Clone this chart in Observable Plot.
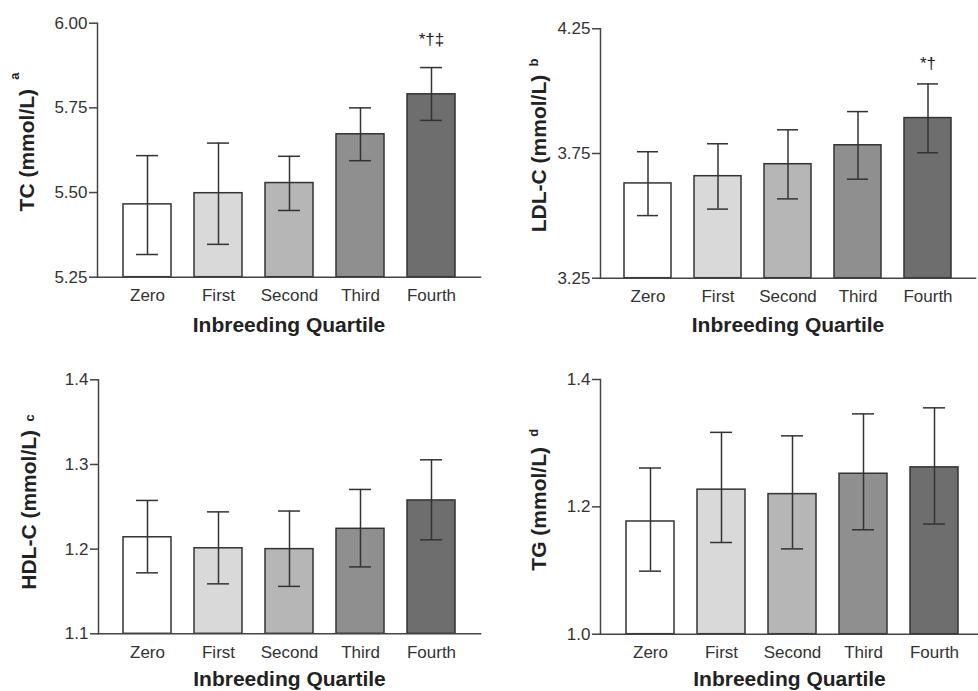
<!DOCTYPE html>
<html>
<head>
<meta charset="utf-8">
<script src="https://cdn.jsdelivr.net/npm/d3@7"></script>
<script src="https://cdn.jsdelivr.net/npm/@observablehq/plot@0.6"></script>
<style>
  body { margin: 0; background: #fff; }
  #wrap { position: relative; width: 978px; height: 691px; overflow: hidden; background: #fff;
          font-family: "Liberation Sans", Arial, sans-serif; }
  .panel { position: absolute; }
</style>
</head>
<body>
<div id="wrap"></div>
<script>
// ---- data ----
const quartiles = ["Zero", "First", "Second", "Third", "Fourth"];
const fills = ["#ffffff", "#d9d9d9", "#b6b6b6", "#8f8f8f", "#6e6e6e"];

const tcMean = [5.465, 5.498, 5.528, 5.672, 5.790];
const tcLow  = [5.317, 5.347, 5.447, 5.594, 5.713];
const tcHigh = [5.609, 5.646, 5.607, 5.750, 5.869];
const tcTicks = [5.25, 5.50, 5.75, 6.00];
const tcNotes = ["", "", "", "", "*†‡"];

const ldlMean = [3.630, 3.659, 3.707, 3.783, 3.892];
const ldlLow  = [3.501, 3.527, 3.568, 3.647, 3.753];
const ldlHigh = [3.757, 3.789, 3.845, 3.918, 4.029];
const ldlTicks = [3.25, 3.75, 4.25];
const ldlNotes = ["", "", "", "", "*†"];

const hdlMean = [1.214, 1.201, 1.200, 1.224, 1.2575];
const hdlLow  = [1.172, 1.159, 1.156, 1.179, 1.211];
const hdlHigh = [1.2575, 1.244, 1.245, 1.2705, 1.3055];
const hdlTicks = [1.1, 1.2, 1.3, 1.4];

const tgMean = [1.177, 1.227, 1.220, 1.252, 1.262];
const tgLow  = [1.099, 1.144, 1.134, 1.164, 1.173];
const tgHigh = [1.261, 1.317, 1.3115, 1.346, 1.3555];
const tgTicks = [1.0, 1.2, 1.4];

const xTitle = "Inbreeding Quartile";

// ---- drawing ----
const FONT = "'Liberation Sans', Arial, sans-serif";
const INK = "#333";

function panel(cfg) {
  const rows = quartiles.map((q, i) => ({
    q, mean: cfg.mean[i], low: cfg.low[i], high: cfg.high[i], fill: fills[i],
    note: cfg.notes ? cfg.notes[i] : ""
  }));
  const base = cfg.ticks[0];
  const top = cfg.ticks[cfg.ticks.length - 1];
  const marks = [
    Plot.barY(rows, {x: "q", y1: base, y2: "mean", fill: "fill", stroke: INK, strokeWidth: 1.5}),
    Plot.ruleX(rows, {x: "q", y1: "low", y2: "high", stroke: INK, strokeWidth: 1.5}),
    Plot.tickY(rows, {x: "q", y: "low", inset: 13, stroke: INK, strokeWidth: 1.5}),
    Plot.tickY(rows, {x: "q", y: "high", inset: 13, stroke: INK, strokeWidth: 1.5}),
    Plot.frame({anchor: "left", stroke: "#444", strokeWidth: 1.5}),
    Plot.frame({anchor: "bottom", stroke: "#444", strokeWidth: 1.5}),
    Plot.axisY({ticks: cfg.ticks, tickFormat: d3.format(cfg.fmt), tickSize: 8, tickPadding: 2,
                fontSize: 17, stroke: "#444", strokeWidth: 1.5, fill: INK, label: null}),
    Plot.axisX({tickSize: 0, tickPadding: 12, fontSize: 17, fill: INK, label: null}),
    Plot.text([xTitle], {text: d => d, frameAnchor: "bottom", lineAnchor: "bottom", dy: cfg.xdy,
                         fontSize: 21, fontWeight: "bold", fill: "#222"}),
    Plot.text([cfg.ylabel], {text: d => d, frameAnchor: "left", rotate: -90, textAnchor: "middle",
                             lineAnchor: "middle", dx: cfg.ydx, dy: cfg.ydy || 0,
                             fontSize: 21, fontWeight: "bold", fill: "#222"}),
    Plot.text([cfg.sup], {text: d => d, frameAnchor: "left", rotate: -90, textAnchor: "middle",
                          lineAnchor: "middle", dx: cfg.sdx, dy: cfg.sdy,
                          fontSize: 13, fontWeight: "bold", fill: "#222"})
  ];
  if (cfg.notes) {
    marks.push(Plot.text(rows, {x: "q", y: "high", text: "note", lineAnchor: "bottom",
                                dy: cfg.noteDy, fontSize: 17, fill: "#222"}));
  }
  const svg = Plot.plot({
    width: cfg.w, height: cfg.h,
    marginLeft: cfg.ml, marginRight: cfg.mr, marginTop: cfg.mt, marginBottom: cfg.mb,
    style: {background: "transparent", fontFamily: FONT, overflow: "visible", color: "#222"},
    x: {domain: quartiles, paddingInner: cfg.pi, paddingOuter: cfg.po, align: cfg.align ?? 0.5, label: null},
    y: {domain: [base, top], label: null},
    marks
  });
  const div = document.createElement("div");
  div.className = "panel";
  div.style.left = cfg.left + "px";
  div.style.top = cfg.top + "px";
  div.appendChild(svg);
  document.getElementById("wrap").appendChild(div);
}

panel({left: 0, top: 0, w: 489, h: 340, ml: 97, mr: 9, mt: 22.7, mb: 63.3, pi: 0.33, po: 0.345,
       mean: tcMean, low: tcLow, high: tcHigh, ticks: tcTicks, fmt: ".2f", notes: tcNotes, noteDy: -23,
       ylabel: "TC (mmol/L)", ydx: -70, sup: "a", sdx: -83, sdy: -74, xdy: 55});

panel({left: 489, top: 0, w: 489, h: 340, ml: 111, mr: 3, mt: 28.3, mb: 62.3, pi: 0.33, po: 0.336,
       mean: ldlMean, low: ldlLow, high: ldlHigh, ticks: ldlTicks, fmt: ".2f", notes: ldlNotes, noteDy: -15,
       ylabel: "LDL-C (mmol/L)", ydx: -61, sup: "b", sdx: -67, sdy: -91, xdy: 54});

panel({left: 0, top: 340, w: 489, h: 351, ml: 98, mr: 9, mt: 39.3, mb: 57.7, pi: 0.323, po: 0.34,
       mean: hdlMean, low: hdlLow, high: hdlHigh, ticks: hdlTicks, fmt: ".1f",
       ylabel: "HDL-C (mmol/L)", ydx: -69, ydy: 3, sup: "c", sdx: -69, sdy: -89, xdy: 52.5});

panel({left: 489, top: 340, w: 489, h: 351, ml: 111, mr: 0, mt: 39, mb: 57.3, pi: 0.33, po: 0.305, align: 0.56,
       mean: tgMean, low: tgLow, high: tgHigh, ticks: tgTicks, fmt: ".1f",
       ylabel: "TG (mmol/L)", ydx: -61, ydy: 2, sup: "d", sdx: -67, sdy: -74, xdy: 52});
</script>
</body>
</html>
